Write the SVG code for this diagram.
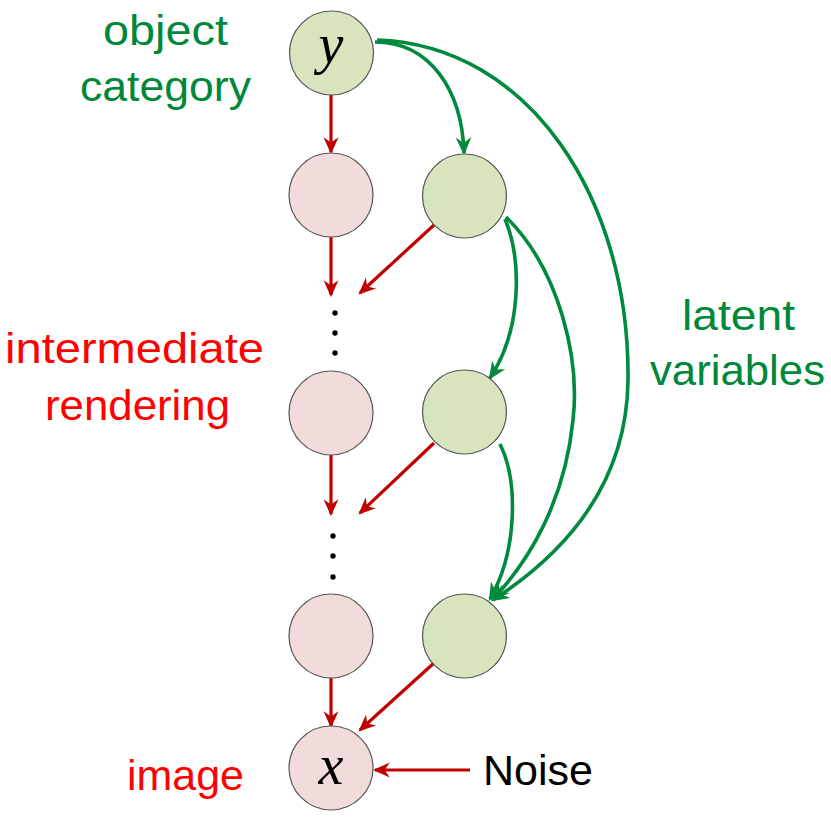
<svg xmlns="http://www.w3.org/2000/svg" width="831" height="820" viewBox="0 0 831 820">
<defs>
<marker id="ar" viewBox="0 0 16 16" refX="14" refY="8" markerWidth="17" markerHeight="17" markerUnits="userSpaceOnUse" orient="auto">
<path d="M0,1 L16,8 L0,15 L5,8 z" fill="#C00000"/>
</marker>
<marker id="ag" viewBox="0 0 16 16" refX="14" refY="8" markerWidth="18" markerHeight="18" markerUnits="userSpaceOnUse" orient="auto">
<path d="M0,1 L16,8 L0,15 L5,8 z" fill="#008A3E"/>
</marker>
<style>
.pk{fill:#F2DCDB;stroke:#555;stroke-width:1.2}
.gn{fill:#D7E4BD;stroke:#555;stroke-width:1.2}
.r{fill:none;stroke:#C00000;stroke-width:3.2;marker-end:url(#ar)}
.g{fill:none;stroke:#008A3E;stroke-width:3.6;marker-end:url(#ag)}
.lbl{font-family:"Liberation Sans",Arial,sans-serif;font-size:42px}
.math{font-family:"Liberation Serif","Times New Roman",serif;font-style:italic;font-size:56px;text-anchor:middle}
</style>
</defs>
<g id="connectors">
<path class="r" d="M331,95 L331,152"/>
<path class="r" d="M331,237 L331,295"/>
<path class="r" d="M434,225 L360,293"/>
<path class="r" d="M331,455 L331,514"/>
<path class="r" d="M434,443 L360,513"/>
<path class="r" d="M331,678 L331,726"/>
<path class="r" d="M434,663 L360,730"/>
<path class="r" d="M470,770 L375,770"/>
<path class="g" d="M375,42 C430,42 462,90 464,153"/>
<path class="g" d="M377,40 C530,45 630,200 628,380 C627,480 570,550 493,600"/>
<path class="g" d="M506,217 C560,270 580,360 573,420 C565,500 530,560 493,599"/>
<path class="g" d="M505,219 C522,260 522,330 490,378"/>
<path class="g" d="M500,444 C518,480 518,550 490,599"/>
</g>
<g id="node-y"><circle class="gn" cx="331.5" cy="53" r="42"/><text class="math" x="331" y="63">y</text></g>
<g id="node-r1"><circle class="pk" cx="331" cy="195" r="42"/></g>
<g id="node-l1"><circle class="gn" cx="464.5" cy="196" r="42"/></g>
<g id="node-r2"><circle class="pk" cx="331" cy="413" r="42"/></g>
<g id="node-l2"><circle class="gn" cx="464.5" cy="412" r="42"/></g>
<g id="node-r3"><circle class="pk" cx="331" cy="636" r="42"/></g>
<g id="node-l3"><circle class="gn" cx="464.5" cy="636" r="42"/></g>
<g id="node-x"><circle class="pk" cx="331" cy="768" r="42"/><text class="math" x="331" y="784">x</text></g>
<g id="dots" fill="#000">
<circle cx="335" cy="313" r="2.7"/><circle cx="335" cy="333" r="2.7"/><circle cx="335" cy="353" r="2.7"/>
<circle cx="333" cy="536" r="2.7"/><circle cx="333" cy="556" r="2.7"/><circle cx="333" cy="577" r="2.7"/>
</g>
<g id="labels">
<text class="lbl" fill="#00883A" x="103" y="45" textLength="125" lengthAdjust="spacingAndGlyphs">object</text>
<text class="lbl" fill="#00883A" x="80" y="101" textLength="171" lengthAdjust="spacingAndGlyphs">category</text>
<text class="lbl" fill="#FF0000" x="5" y="363" textLength="259" lengthAdjust="spacingAndGlyphs">intermediate</text>
<text class="lbl" fill="#FF0000" x="45" y="420" textLength="185" lengthAdjust="spacingAndGlyphs">rendering</text>
<text class="lbl" fill="#00883A" x="682" y="330" textLength="113" lengthAdjust="spacingAndGlyphs">latent</text>
<text class="lbl" fill="#00883A" x="650" y="385" textLength="175" lengthAdjust="spacingAndGlyphs">variables</text>
<text class="lbl" fill="#FF0000" x="127" y="790" textLength="117" lengthAdjust="spacingAndGlyphs">image</text>
<text class="lbl" fill="#000" x="483" y="785" textLength="110" lengthAdjust="spacingAndGlyphs">Noise</text>
</g>
</svg>
